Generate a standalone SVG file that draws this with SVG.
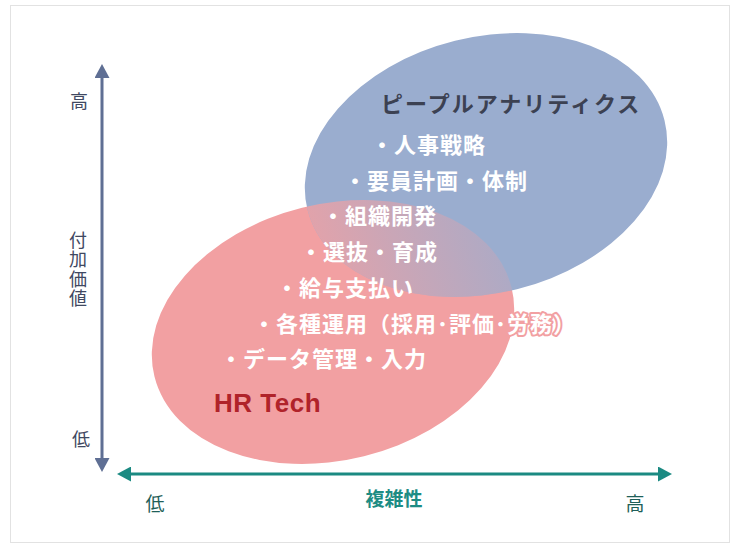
<svg xmlns="http://www.w3.org/2000/svg" width="740" height="549" viewBox="0 0 740 549">
  <style>
    .jp { font-family: "Noto Sans CJK JP", "Noto Sans", sans-serif; }
    .item { font-family: "Noto Sans CJK JP", sans-serif; font-size: 22px; font-weight: bold; fill: #ffffff; letter-spacing: 1px; }
    .vlab { font-family: "Noto Sans CJK JP", sans-serif; font-size: 18px; fill: #3f4862; text-anchor: middle; }
    .vert { font-family: "Noto Sans CJK JP", sans-serif; font-size: 18px; fill: #3f4862; writing-mode: vertical-rl; text-orientation: upright; letter-spacing: 1.5px; }
    .hlab { font-family: "Noto Sans CJK JP", sans-serif; font-size: 19px; fill: #1f5f59; text-anchor: middle; }
    .vaxis { stroke: #5f6f94; stroke-width: 3; fill: none; }
    .haxis { stroke: #1b8a82; stroke-width: 3; fill: none; }
  </style>
  <defs>
    <marker id="arrV" markerUnits="userSpaceOnUse" markerWidth="15" markerHeight="15" refX="0" refY="7.5" orient="auto-start-reverse" viewBox="0 0 15 15">
      <path d="M0,0 L14,7.5 L0,15 z" fill="#5f6f94"/>
    </marker>
    <marker id="arrH" markerUnits="userSpaceOnUse" markerWidth="15" markerHeight="15" refX="0" refY="7.5" orient="auto-start-reverse" viewBox="0 0 15 15">
      <path d="M0,0 L14,7.5 L0,15 z" fill="#1b8a82"/>
    </marker>
    <clipPath id="blueClip">
      <ellipse cx="486" cy="165" rx="184" ry="128" transform="rotate(-14 486 165)"/>
    </clipPath>
    <linearGradient id="blend" gradientUnits="userSpaceOnUse" x1="300" y1="250" x2="520" y2="235">
      <stop offset="0" stop-color="#f2a0a2" stop-opacity="0.95"/>
      <stop offset="0.5" stop-color="#f2a0a2" stop-opacity="0.55"/>
      <stop offset="1" stop-color="#f2a0a2" stop-opacity="0.2"/>
    </linearGradient>
  </defs>

  <rect x="10.5" y="5.5" width="719" height="537" fill="#ffffff" stroke="#e2e2e2" stroke-width="1"/>

  <g id="hrtech-ellipse">
    <ellipse cx="333" cy="332" rx="184" ry="128" transform="rotate(-14 333 332)" fill="#f2a0a2"/>
  </g>
  <g id="people-analytics-ellipse">
    <ellipse cx="486" cy="165" rx="184" ry="128" transform="rotate(-14 486 165)" fill="#9aadcf"/>
  </g>
  <g id="overlap" clip-path="url(#blueClip)">
    <ellipse cx="333" cy="332" rx="184" ry="128" transform="rotate(-14 333 332)" fill="url(#blend)"/>
  </g>

  <g id="connectors">
    <line class="vaxis" x1="102" y1="458" x2="102" y2="78" marker-start="url(#arrV)" marker-end="url(#arrV)"/>
    <line class="haxis" x1="131" y1="474" x2="658" y2="474" marker-start="url(#arrH)" marker-end="url(#arrH)"/>
  </g>

  <g id="people-analytics">
    <text class="jp" x="381" y="112" font-size="22" font-weight="bold" fill="#3c4152" letter-spacing="2">ピープルアナリティクス</text>
    <text class="item" x="371" y="153">・人事戦略</text>
    <text class="item" x="344" y="189">・要員計画・体制</text>
    <text class="item" x="322" y="224">・組織開発</text>
  </g>
  <g id="hr-tech">
    <text class="item" x="300" y="260">・選抜・育成</text>
    <text class="item" x="276" y="296">・給与支払い</text>
    <text class="item" x="253" y="332">・各種運用（採用･評価･<tspan stroke="#f2a0a2" stroke-width="4" stroke-linejoin="round" paint-order="stroke">労務）</tspan></text>
    <text class="item" x="220" y="367">・データ管理・入力</text>
    <text x="214" y="412" font-family="Liberation Sans, Arial, sans-serif" font-size="26" font-weight="bold" fill="#b0232a" letter-spacing="0.5">HR Tech</text>
  </g>

  <g id="y-axis-labels">
    <text class="vlab" x="79" y="108">高</text>
    <text class="vert" x="78" y="231">付加価値</text>
    <text class="vlab" x="81" y="446">低</text>
  </g>
  <g id="x-axis-labels">
    <text class="hlab" x="155" y="511">低</text>
    <text class="jp" x="394" y="506" font-size="19" font-weight="bold" fill="#1d8c84" text-anchor="middle">複雑性</text>
    <text class="hlab" x="635" y="511">高</text>
  </g>
</svg>
